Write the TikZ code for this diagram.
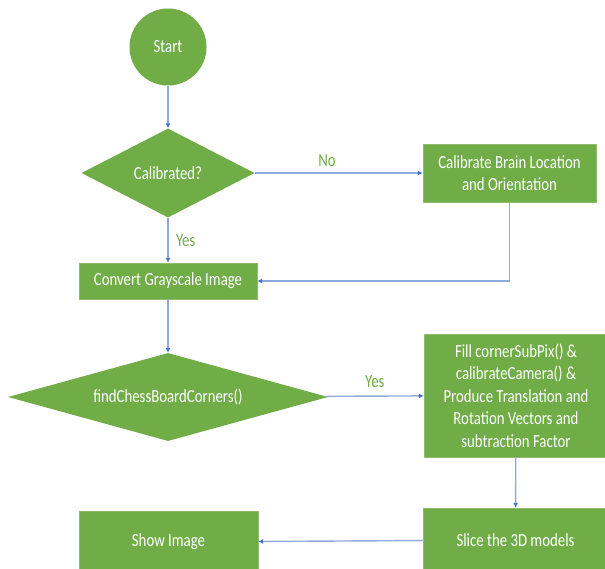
\documentclass[tikz,border=0pt]{standalone}
\usepackage{fontspec}
\setmainfont{Carlito}[FakeStretch=0.8]
\usetikzlibrary{shapes.geometric,arrows.meta}

\definecolor{boxgreen}{HTML}{70AD47}
\definecolor{linkblue}{HTML}{8FAADC}
\definecolor{tipblue}{HTML}{4472C4}

\tikzset{
  block/.style={rectangle,fill=boxgreen,draw=boxgreen!80!white,text=white,align=center,inner sep=0pt},
  decide/.style={diamond,fill=boxgreen,text=white,inner sep=0pt},
  link/.style={draw=linkblue,line width=1.4pt,-{Latex[length=5pt,width=5pt,color=tipblue]}},
  answer/.style={text=boxgreen}
}

\begin{document}
\begin{tikzpicture}[x=1pt,y=-1pt,font=\fontsize{18.5}{22.5}\selectfont]
    \useasboundingbox (0,0) rectangle (605,569);
    \clip (0,0) rectangle (605,569);
    \fill[white] (0,0) rectangle (605,569);
    % flow nodes
    \node[circle,fill=boxgreen,text=white,minimum size=77pt,inner sep=0pt] (start) at (168,47) {Start};
    \node[decide,aspect=1.94,minimum width=173pt,minimum height=89pt] (calib) at (168,173) {Calibrated?};
    \node[block,minimum width=173pt,minimum height=58pt] (brain) at (509.5,173) {Calibrate Brain Location\\and Orientation};
    \node[block,minimum width=178pt,minimum height=36pt] (gray) at (168,281) {Convert Grayscale Image};
    \node[decide,aspect=3.6,minimum width=320pt,minimum height=88pt] (chess) at (168,397) {findChessBoardCorners()};
    \node[block,minimum width=184pt,minimum height=123pt] (fill) at (516,395.5) {Fill cornerSubPix() \&\\calibrateCamera() \&\\Produce Translation and\\Rotation Vectors and\\subtraction Factor};
    \node[block,minimum width=185pt,minimum height=64pt] (slice) at (515.5,540) {Slice the 3D models};
    \node[block,minimum width=179pt,minimum height=62pt] (show) at (168.5,542) {Show Image};
    % connectors
    \draw[link] (start) -- (calib);
    \draw[link] (calib) -- (brain) node[answer,pos=0.43,above=2pt] {No};
    \draw[link] (calib) -- (gray) node[answer,midway,right=4pt] {Yes};
    \draw[link] (brain.south) |- (gray.east);
    \draw[link] (gray) -- (chess);
    \draw[link] (chess) -- (fill) node[answer,midway,above=4pt] {Yes};
    \draw[link] (fill) -- (slice);
    \draw[link] (slice) -- (show);
  \end{tikzpicture}
\end{document}
